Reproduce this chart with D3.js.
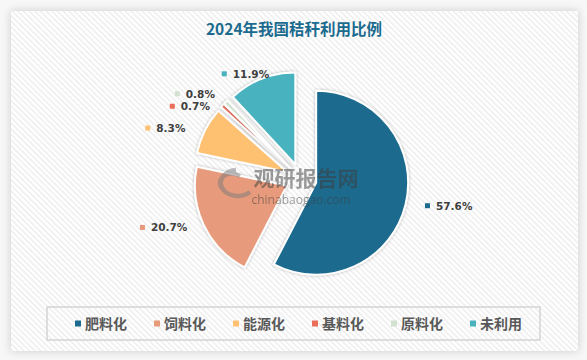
<!DOCTYPE html>
<html><head><meta charset="utf-8">
<script src="https://cdn.jsdelivr.net/npm/d3@7/dist/d3.min.js"></script>
<style>html,body{margin:0;padding:0;background:#fff;overflow:hidden}svg{display:block}</style>
</head><body>
<svg id="chart" width="587" height="360"></svg>
<script>
// ---- data ----
const title = "2024年我国秸秆利用比例";
const categories = ["肥料化", "饲料化", "能源化", "基料化", "原料化", "未利用"];
const values = [57.6, 20.7, 8.3, 0.7, 0.8, 11.9];
const colors = ["#1c6b8e", "#e89b7b", "#fec172", "#ea6f5b", "#d3e2d0", "#49b2bf"];

// ---- layout ----
const W = 587, H = 360;
const svg = d3.select("#chart");
const defs = svg.append("defs");

const pat = defs.append("pattern").attr("id", "stripes")
  .attr("patternUnits", "userSpaceOnUse").attr("width", 4).attr("height", 4)
  .attr("patternTransform", "rotate(-45)");
pat.append("rect").attr("width", 4).attr("height", 4).attr("fill", "#ffffff");
pat.append("rect").attr("width", 1.4).attr("height", 4).attr("fill", "#ececec");

const sh = defs.append("filter").attr("id", "panelShadow")
  .attr("x", "-5%").attr("y", "-5%").attr("width", "110%").attr("height", "110%");
sh.append("feDropShadow").attr("dx", 0).attr("dy", 0).attr("stdDeviation", 4)
  .attr("flood-color", "#000").attr("flood-opacity", 0.18);

const ss = defs.append("filter").attr("id", "sliceShadow")
  .attr("x", "-20%").attr("y", "-20%").attr("width", "140%").attr("height", "140%");
ss.append("feDropShadow").attr("dx", 0).attr("dy", 0).attr("stdDeviation", 1.6)
  .attr("flood-color", "#000").attr("flood-opacity", 0.3);

svg.append("rect").attr("width", W).attr("height", H).attr("fill", "#f7f7f7");
svg.append("rect").attr("x", 11).attr("y", 11).attr("width", 567).attr("height", 340)
  .attr("fill", "url(#stripes)").attr("filter", "url(#panelShadow)");

// title
svg.append("text").attr("x", 294).attr("y", 35).attr("text-anchor", "middle")
  .attr("font-family", "'Noto Sans CJK SC', sans-serif").attr("font-weight", "bold")
  .attr("font-size", 15.5).attr("fill", "#1b6b8f").text(title);

// pie
const cx = 301, cy = 179, R = 92, explode = 15.6;
const pie = d3.pie().sort(null).value(d => d.v).startAngle(0).endAngle(2 * Math.PI);
const data = categories.map((c, i) => ({ c, v: values[i], color: colors[i] }));
const arcs = pie(data);
const arc = d3.arc().innerRadius(0).outerRadius(R);

const g = svg.append("g").attr("transform", `translate(${cx},${cy})`);
g.selectAll("path").data(arcs).join("path")
  .attr("d", arc)
  .attr("transform", d => {
    const m = (d.startAngle + d.endAngle) / 2;
    return `translate(${explode * Math.sin(m)},${-explode * Math.cos(m)})`;
  })
  .attr("fill", d => d.data.color)
  .attr("stroke", "#fff").attr("stroke-width", 2).attr("stroke-linejoin", "round")
  .attr("filter", "url(#sliceShadow)");

// watermark
const wm = svg.append("g").attr("opacity", 0.5);
wm.append("path").attr("d", "M236,170 a17,13 0 1,0 14,22")
  .attr("fill", "none").attr("stroke", "#7a7a7a").attr("stroke-width", 4.5);
wm.append("path").attr("d", "M224,190 a12,9 0 1,1 16,-14")
  .attr("fill", "none").attr("stroke", "#7a7a7a").attr("stroke-width", 4);
wm.append("text").attr("x", 306).attr("y", 186).attr("text-anchor", "middle")
  .attr("font-family", "'Noto Sans CJK SC', sans-serif").attr("font-weight", "bold")
  .attr("font-size", 21).attr("fill", "#3c3c3c").text("观研报告网");
wm.append("text").attr("x", 301).attr("y", 204).attr("text-anchor", "middle")
  .attr("font-family", "'Open Sans', sans-serif")
  .attr("font-size", 12).attr("fill", "#3c3c3c").text("chinabaogao.com");

// data labels: elliptical placement + simple vertical de-overlap
const lrx = 152, lry = 113, minGap = 12.5;
const lab = arcs.map(d => {
  const m = (d.startAngle + d.endAngle) / 2;
  return { d, m, x: cx + lrx * Math.sin(m), y: cy - lry * Math.cos(m) };
});
for (let it = 0; it < 20; it++) {
  for (let i = 0; i < lab.length; i++) for (let j = i + 1; j < lab.length; j++) {
    const a = lab[i], b = lab[j];
    if (Math.abs(a.x - b.x) < 40 && Math.abs(a.y - b.y) < minGap) {
      const push = (minGap - Math.abs(a.y - b.y)) / 2;
      const up = a.m > b.m ? a : b, down = up === a ? b : a;
      up.y -= push; down.y += push;
    }
  }
}
const labels = svg.append("g");
lab.forEach(L => {
  const lg = labels.append("g");
  const t = lg.append("text").attr("y", L.y + 4)
    .attr("font-family", "'DejaVu Sans', sans-serif").attr("font-weight", "bold")
    .attr("font-size", 10.5).attr("fill", "#404040")
    .text(L.d.data.v.toFixed(1) + "%");
  const tw = t.node().getComputedTextLength();
  const total = 5 + 6 + tw;
  const x0 = L.x - total / 2;
  lg.append("rect").attr("x", x0).attr("y", L.y - 2.5).attr("width", 5).attr("height", 5)
    .attr("fill", L.d.data.color);
  t.attr("x", x0 + 11);
});

// legend
const lx = 47, ly = 307, lw = 493, lh = 33;
svg.append("rect").attr("x", lx).attr("y", ly).attr("width", lw).attr("height", lh)
  .attr("fill", "none").attr("stroke", "#d4d4d4").attr("stroke-width", 1.5);
const lscale = d3.scaleBand().domain(categories).range([62, 62 + 6 * 79]);
const li = svg.append("g").selectAll("g").data(data).join("g")
  .attr("transform", d => `translate(${lscale(d.c) + 13},${ly + lh / 2})`);
li.append("rect").attr("x", 0).attr("y", -3).attr("width", 6).attr("height", 6)
  .attr("fill", d => d.color);
li.append("text").attr("x", 10).attr("y", 5)
  .attr("font-family", "'Noto Sans CJK SC', sans-serif").attr("font-weight", "bold")
  .attr("font-size", 14).attr("fill", "#595959").text(d => d.c);
</script>
</body></html>
